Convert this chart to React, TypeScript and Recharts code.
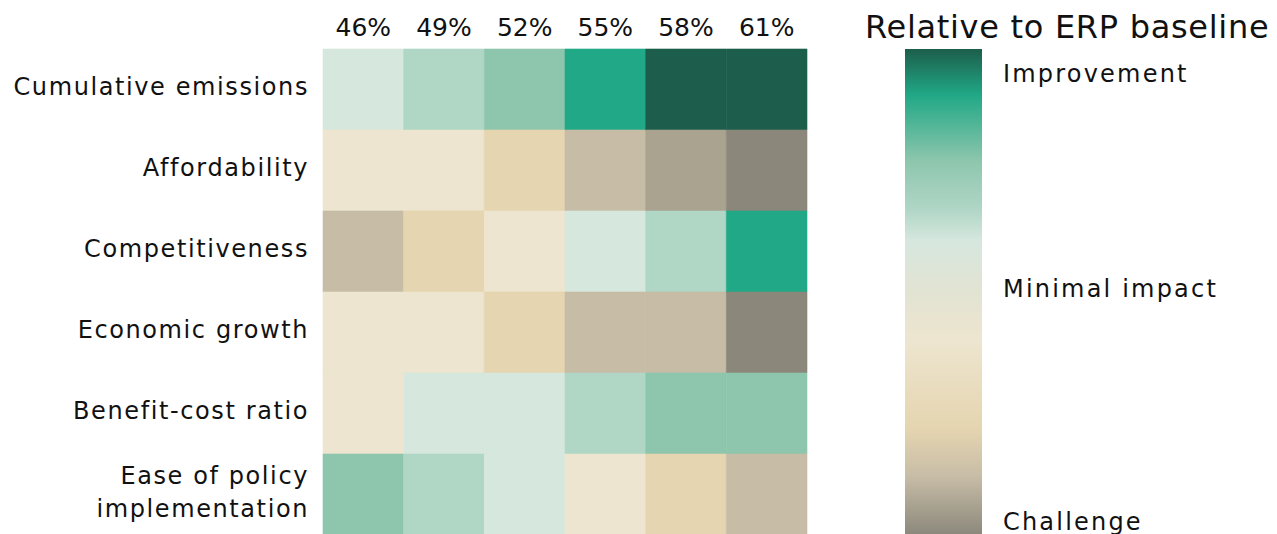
import { BarChart, Bar, XAxis, YAxis, Cell } from "recharts";

const columns = ["46%", "49%", "52%", "55%", "58%", "61%"];

const rowLabels = [
  "Cumulative emissions",
  "Affordability",
  "Competitiveness",
  "Economic growth",
  "Benefit-cost ratio",
  "Ease of policy implementation",
];

// impact score per column: +5 strong improvement ... -5 strong challenge
const cumulativeEmissions = [1, 2, 3, 4, 5, 5];
const affordability = [-1, -1, -2, -3, -4, -5];
const competitiveness = [-3, -2, -1, 1, 2, 4];
const economicGrowth = [-1, -1, -2, -3, -3, -5];
const benefitCost = [-1, 1, 1, 2, 3, 3];
const easeOfPolicy = [3, 2, 1, -1, -2, -3];

const scores = [
  cumulativeEmissions,
  affordability,
  competitiveness,
  economicGrowth,
  benefitCost,
  easeOfPolicy,
];

const palette: Record<number, string> = {
  5: "#1c5e4b",
  4: "#21a886",
  3: "#8dc6ad",
  2: "#b0d6c6",
  1: "#d6e7de",
  [-1]: "#ede5cf",
  [-2]: "#e5d5b0",
  [-3]: "#c7bca6",
  [-4]: "#aaa390",
  [-5]: "#8b887b",
};

const legendLabels = ["Improvement", "Minimal impact", "Challenge"];

const FONT = "'DejaVu Sans', sans-serif";
const INK = "#111111";

// every cell has width 1 so the stacked bars fill the grid
const data = rowLabels.map((name) => {
  const row: Record<string, string | number> = { name };
  columns.forEach((_, c) => {
    row[`c${c}`] = 1;
  });
  return row;
});

const wrap = (label: string, max = 20) => {
  const lines: string[] = [];
  let cur = "";
  label.split(" ").forEach((w) => {
    if (cur && (cur + " " + w).length > max) {
      lines.push(cur);
      cur = w;
    } else {
      cur = cur ? cur + " " + w : w;
    }
  });
  if (cur) lines.push(cur);
  return lines;
};

const RowTick = (props: any) => {
  const { y, payload } = props;
  const lines = wrap(String(payload.value));
  const gap = 33;
  return (
    <text
      x={309}
      y={y - 3}
      textAnchor="end"
      fontFamily={FONT}
      fontSize={24}
      letterSpacing={1.6}
      fill={INK}
    >
      {lines.map((l, i) => (
        <tspan key={i} x={309} dy={i === 0 ? `${0.36 - ((lines.length - 1) * gap) / 2 / 24}em` : gap}>
          {l}
        </tspan>
      ))}
    </text>
  );
};

const ColTick = (props: any) => {
  const { x, payload } = props;
  return (
    <text x={x} y={36} textAnchor="middle" fontFamily={FONT} fontSize={25} fill={INK}>
      {columns[Math.floor(payload.value)]}
    </text>
  );
};

const gradientStops = [
  { offset: 0, color: "#1c5e4b" },
  { offset: 0.095, color: "#21a886" },
  { offset: 0.23, color: "#8dc6ad" },
  { offset: 0.33, color: "#b0d6c6" },
  { offset: 0.395, color: "#d6e7de" },
  { offset: 0.5, color: "#e2e3d2" },
  { offset: 0.6, color: "#ede5cf" },
  { offset: 0.78, color: "#e5d5b0" },
  { offset: 0.88, color: "#c7bca6" },
  { offset: 1, color: "#8b887b" },
];

function ColorLegend() {
  return (
    <svg
      width={1277}
      height={534}
      style={{ position: "absolute", left: 0, top: 0, pointerEvents: "none" }}
    >
      <defs>
        <linearGradient id="impact" x1="0" y1="0" x2="0" y2="1">
          {gradientStops.map((s, i) => (
            <stop key={i} offset={s.offset} stopColor={s.color} />
          ))}
        </linearGradient>
      </defs>
      <text x={865} y={38} fontFamily={FONT} fontSize={32} letterSpacing={0.7} fill={INK}>
        Relative to ERP baseline
      </text>
      <rect x={905} y={49} width={77} height={486} fill="url(#impact)" />
      {legendLabels.map((l, i) => (
        <text
          key={l}
          x={1003}
          y={[82, 297, 530][i]}
          fontFamily={FONT}
          fontSize={24}
          letterSpacing={2.2}
          fill={INK}
        >
          {l}
        </text>
      ))}
    </svg>
  );
}

export default function App() {
  return (
    <div
      style={{
        position: "absolute",
        left: 0,
        top: 0,
        width: 1277,
        height: 534,
        overflow: "hidden",
        background: "#fff",
      }}
    >
      <BarChart
        width={1277}
        height={536}
        data={data}
        layout="vertical"
        barCategoryGap={0}
        barGap={0}
        margin={{ top: 0, right: 470, bottom: 1, left: 0 }}
      >
        <XAxis
          type="number"
          orientation="top"
          domain={[0, 6]}
          ticks={[0.5, 1.5, 2.5, 3.5, 4.5, 5.5]}
          height={49}
          axisLine={false}
          tickLine={false}
          tick={<ColTick />}
        />
        <YAxis
          type="category"
          dataKey="name"
          width={323}
          axisLine={false}
          tickLine={false}
          tick={<RowTick />}
        />
        {columns.map((_, c) => (
          <Bar key={c} dataKey={`c${c}`} stackId="grid" isAnimationActive={false}>
            {scores.map((row, r) => (
              <Cell key={r} fill={palette[row[c]]} stroke={palette[row[c]]} strokeWidth={0.6} />
            ))}
          </Bar>
        ))}
      </BarChart>
      <ColorLegend />
    </div>
  );
}
